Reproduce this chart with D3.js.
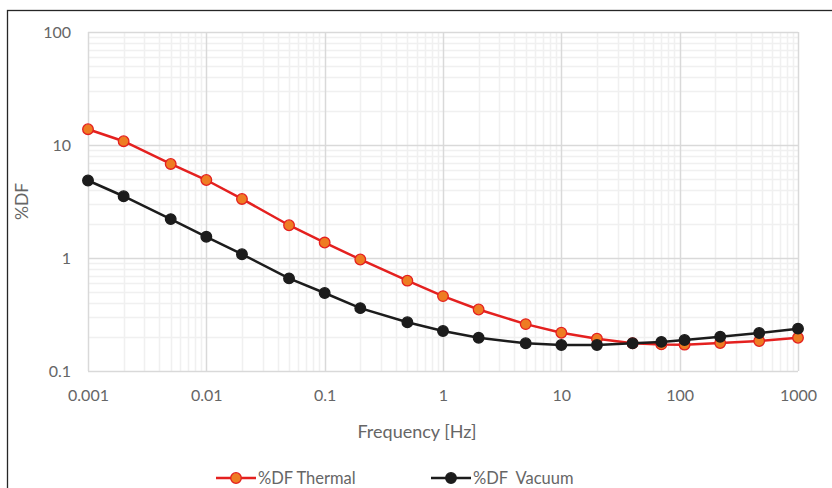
<!DOCTYPE html>
<html>
<head>
<meta charset="utf-8">
<script src="https://cdnjs.cloudflare.com/ajax/libs/d3/7.8.5/d3.min.js"></script>
<style>
  body { margin: 0; background: #fff; }
  text { font-family: Lato, "Open Sans", sans-serif; fill: #666; }
</style>
</head>
<body>
<svg id="chart" width="832" height="488"></svg>
<script>
"use strict";

// frequency points [Hz]
var freqs = [0.001, 0.002, 0.005, 0.01, 0.02, 0.05, 0.1, 0.2, 0.5, 1, 2, 5, 10, 20, 40, 70, 110, 220, 470, 1000];
// %DF values
var thermal = [13.8, 10.8, 6.8, 4.9, 3.33, 1.95, 1.37, 0.97, 0.63, 0.46, 0.35, 0.26, 0.218, 0.193, 0.176, 0.172, 0.171, 0.177, 0.184, 0.197];
var vacuum = [4.85, 3.52, 2.21, 1.54, 1.08, 0.66, 0.49, 0.36, 0.27, 0.226, 0.197, 0.176, 0.17, 0.17, 0.176, 0.181, 0.188, 0.201, 0.217, 0.237];
var xTicks = [0.001, 0.01, 0.1, 1, 10, 100, 1000];
var yTicks = [0.1, 1, 10, 100];
var seriesNames = ["%DF Thermal", "%DF  Vacuum"];

var svg = d3.select("#chart");

// outer frame (runs off the right and bottom edges)
svg.append("rect").attr("x", 7.5).attr("y", 10.5).attr("width", 840).attr("height", 500)
  .attr("fill", "none").attr("stroke", "#262626").attr("stroke-width", 1.3);

var pLeft = 88, pRight = 798, pTop = 32, pBottom = 371;

var x = d3.scaleLog().domain([0.001, 1000]).range([pLeft, pRight]);
var y = d3.scaleLog().domain([0.1, 100]).range([pBottom, pTop]);

//minor grid
var minorX = [], minorY = [];
xTicks.slice(0, -1).forEach(function (d) {
  for (var k = 2; k <= 9; k++) minorX.push(d * k);
});
yTicks.slice(0, -1).forEach(function (d) {
  for (var k = 2; k <= 9; k++) minorY.push(d * k);
});

var grid = svg.append("g");
grid.selectAll(".mx").data(minorX).enter().append("line")
  .attr("x1", function (d) { return Math.round(x(d)) + 0.5; })
  .attr("x2", function (d) { return Math.round(x(d)) + 0.5; })
  .attr("y1", pTop).attr("y2", pBottom)
  .attr("stroke", "#f0f0f0").attr("stroke-width", 1.5);
grid.selectAll(".my").data(minorY).enter().append("line")
  .attr("y1", function (d) { return Math.round(y(d)) + 0.5; })
  .attr("y2", function (d) { return Math.round(y(d)) + 0.5; })
  .attr("x1", pLeft).attr("x2", pRight)
  .attr("stroke", "#f0f0f0").attr("stroke-width", 1.5);
grid.selectAll(".Mx").data(xTicks).enter().append("line")
  .attr("x1", function (d) { return Math.round(x(d)) + 0.5; })
  .attr("x2", function (d) { return Math.round(x(d)) + 0.5; })
  .attr("y1", pTop).attr("y2", pBottom)
  .attr("stroke", "#d9d9d9").attr("stroke-width", 1.5);
grid.selectAll(".My").data(yTicks).enter().append("line")
  .attr("y1", function (d) { return Math.round(y(d)) + 0.5; })
  .attr("y2", function (d) { return Math.round(y(d)) + 0.5; })
  .attr("x1", pLeft).attr("x2", pRight)
  .attr("stroke", "#d9d9d9").attr("stroke-width", 1.5);

//axes labels with d3 axes
var fmt = function (d) { return String(d); };
var xAxis = svg.append("g").attr("transform", "translate(0," + pBottom + ")")
  .call(d3.axisBottom(x).tickValues(xTicks).tickFormat(fmt).tickSize(0).tickPadding(19));
var yAxis = svg.append("g").attr("transform", "translate(" + (pLeft - 17) + ",0)")
  .call(d3.axisLeft(y).tickValues(yTicks).tickFormat(fmt).tickSize(0).tickPadding(0));
[xAxis, yAxis].forEach(function (g) {
  g.select(".domain").remove();
  g.selectAll("text").style("font-family", "Lato, 'Open Sans', sans-serif")
    .attr("font-size", 16).attr("fill", "#666");
});

svg.append("text").attr("x", 417).attr("y", 438)
  .attr("text-anchor", "middle").attr("font-size", 18).text("Frequency [Hz]");
svg.append("text").attr("transform", "translate(28," + ((pTop + pBottom) / 2) + ") rotate(-90)")
  .attr("text-anchor", "middle").attr("font-size", 17.5).text("%DF");

//series
var series = [
  { name: seriesNames[0], values: thermal, line: "#e4201f", fill: "#ee7c22", stroke: "#e4201f" },
  { name: seriesNames[1], values: vacuum, line: "#1c1c1c", fill: "#1c1c1c", stroke: "#1c1c1c" }
];

var line = d3.line()
  .x(function (d) { return x(d[0]); })
  .y(function (d) { return y(d[1]); });

series.forEach(function (s) {
  var pts = freqs.map(function (f, i) { return [f, s.values[i]]; });
  svg.append("path").datum(pts).attr("d", line)
    .attr("fill", "none").attr("stroke", s.line).attr("stroke-width", 2.5);
  svg.append("g").selectAll("circle").data(pts).enter().append("circle")
    .attr("cx", function (d) { return x(d[0]); })
    .attr("cy", function (d) { return y(d[1]); })
    .attr("r", 5.3).attr("fill", s.fill).attr("stroke", s.stroke).attr("stroke-width", 1.3);
});

//legend
var legendX = [216, 431];
series.forEach(function (s, i) {
  var g = svg.append("g").attr("transform", "translate(" + legendX[i] + ",478)");
  g.append("line").attr("x1", 0).attr("x2", 40).attr("stroke", s.line).attr("stroke-width", 2.5);
  g.append("circle").attr("cx", 20).attr("r", 5.3).attr("fill", s.fill)
    .attr("stroke", s.stroke).attr("stroke-width", 1.3);
  g.append("text").attr("x", 42).attr("dy", "0.35em").attr("font-size", 16.5)
    .style("white-space", "pre").text(s.name);
});
</script>
</body>
</html>
